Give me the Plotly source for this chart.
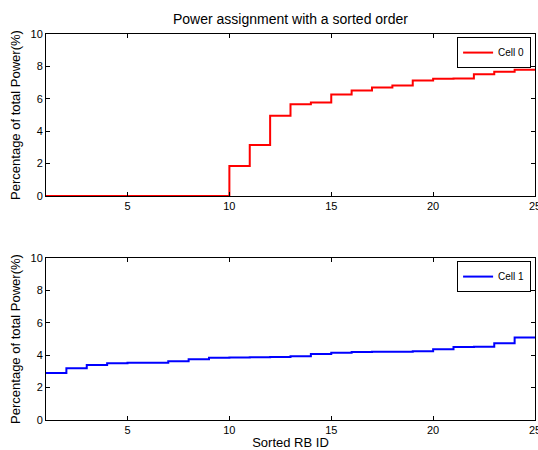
import plotly.graph_objects as go

# Sorted resource-block indices
rb_id = list(range(1, 26))

# Share of total power (%) per sorted RB, one list per cell
cell0_power = [0, 0, 0, 0, 0, 0, 0, 0, 0, 1.85, 3.15, 4.96, 5.67, 5.77, 6.27,
               6.51, 6.70, 6.82, 7.13, 7.23, 7.25, 7.52, 7.67, 7.79, 7.80]
cell1_power = [2.90, 3.20, 3.39, 3.50, 3.53, 3.54, 3.62, 3.75, 3.85, 3.86, 3.88,
               3.89, 3.93, 4.08, 4.15, 4.20, 4.21, 4.22, 4.25, 4.37, 4.50, 4.52,
               4.73, 5.10, 5.10]

x_ticks = [5, 10, 15, 20, 25]
y_ticks = [0, 2, 4, 6, 8, 10]

FONT = "Liberation Sans, Arial, Helvetica, sans-serif"
W, H = 538, 450
M_L, M_R, M_T, M_B = 46, 3, 34, 30
plot_h = H - M_T - M_B
top_lo = (H - M_B - 196) / plot_h
bot_hi = (H - M_B - 258) / plot_h

fig = go.Figure()
fig.add_trace(go.Scatter(x=rb_id, y=cell0_power, mode="lines", name="Cell 0",
                         line=dict(color="#FF0000", width=2, shape="hv"),
                         xaxis="x", yaxis="y", legend="legend"))
fig.add_trace(go.Scatter(x=rb_id, y=cell1_power, mode="lines", name="Cell 1",
                         line=dict(color="#0000FF", width=2, shape="hv"),
                         xaxis="x2", yaxis="y2", legend="legend2"))

axis_common = dict(showline=True, linecolor="black", linewidth=1, mirror="ticks",
                   ticks="inside", ticklen=4, tickcolor="black", showgrid=False,
                   zeroline=False, automargin=False,
                   tickfont=dict(family=FONT, size=11, color="black"))
xcommon = dict(axis_common, range=[1, 25], tickvals=x_ticks, domain=[0, 1],
               ticklabeloverflow="allow")
ycommon = dict(axis_common, range=[0, 10], tickvals=y_ticks)
ytitle = dict(text="Percentage of total Power(%)",
              font=dict(family=FONT, size=13, color="black"), standoff=6)

legend_common = dict(xanchor="right", yanchor="top", bgcolor="white",
                     bordercolor="black", borderwidth=1,
                     font=dict(family=FONT, size=10, color="black"),
                     tracegroupgap=0, itemwidth=30)

fig.update_layout(
    width=W, height=H,
    margin=dict(l=M_L, r=M_R, t=M_T, b=M_B, autoexpand=False),
    paper_bgcolor="white", plot_bgcolor="white",
    title=dict(text="Power assignment with a sorted order", x=0.5, xref="paper",
               xanchor="center", y=1 - 19 / H, yanchor="middle",
               font=dict(family=FONT, size=14, color="black")),
    xaxis=dict(xcommon, anchor="y"),
    yaxis=dict(ycommon, domain=[top_lo, 1], anchor="x", title=ytitle),
    xaxis2=dict(xcommon, anchor="y2",
                title=dict(text="Sorted RB ID", standoff=2,
                           font=dict(family=FONT, size=13, color="black"))),
    yaxis2=dict(ycommon, domain=[0, bot_hi], anchor="x2", title=ytitle),
    legend=dict(legend_common, x=0.992, y=0.992, yref="paper"),
    legend2=dict(legend_common, x=0.992, y=bot_hi - 0.008, yref="paper"),
    showlegend=True,
)

fig.write_html("out.html")
